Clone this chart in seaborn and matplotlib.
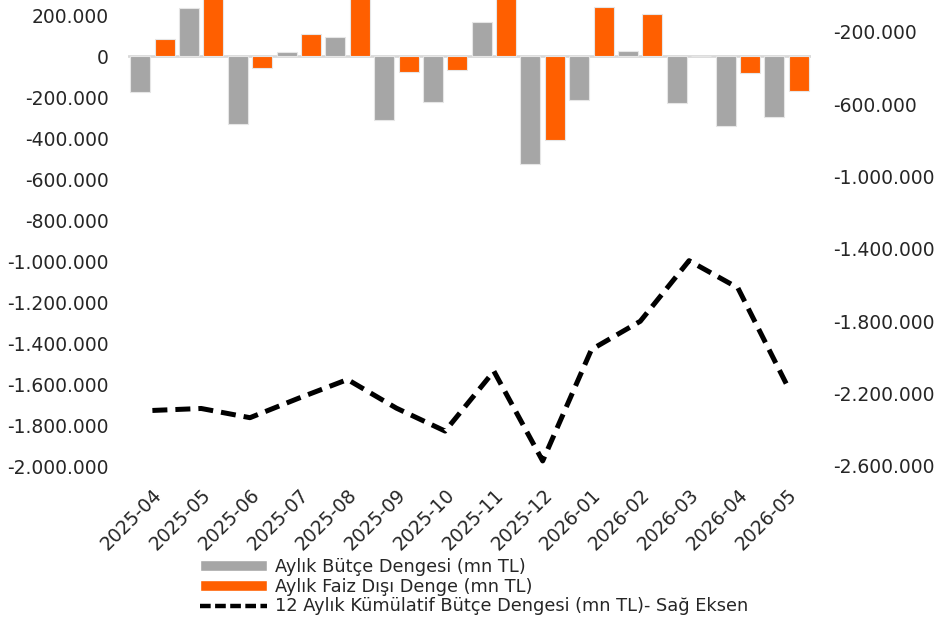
import numpy as np
import pandas as pd
import matplotlib
matplotlib.use("Agg")
import matplotlib.pyplot as plt
import matplotlib.ticker as mticker
from matplotlib.patches import Patch
from matplotlib.lines import Line2D
import seaborn as sns

# Data (thousand TL)
months = ["2025-04", "2025-05", "2025-06", "2025-07", "2025-08", "2025-09", "2025-10",
          "2025-11", "2025-12", "2026-01", "2026-02", "2026-03", "2026-04", "2026-05"]
butce = [-176, 234, -330, 21, 94, -311, -224, 169, -528, -215, 23, -231, -340, -299]
faiz_disi = [83, 310, -57, 109, 330, -75, -67, 300, -411, 240, 206, 3, -81, -169]
kumulatif = [-2293, -2282, -2333, -2225, -2122, -2280, -2407, -2076, -2572, -1956,
             -1800, -1465, -1615, -2149]

lbl_butce = "Aylık Bütçe Dengesi (mn TL)"
lbl_faiz = "Aylık Faiz Dışı Denge (mn TL)"
lbl_kum = "12 Aylık Kümülatif Bütçe Dengesi (mn TL)- Sağ Eksen"
gri = "#a6a6a6"
turuncu = "#ff5f00"
kesik = (0, (3, 1.6))  # dashed line pattern

bars = pd.DataFrame({
    "ay": months * 2,
    "deger": [v * 1000 for v in butce + faiz_disi],
    "seri": [lbl_butce] * len(months) + [lbl_faiz] * len(months),
})
line = pd.DataFrame({"x": np.arange(len(months)), "deger": [v * 1000 for v in kumulatif]})

sns.set_style("white")
plt.rcParams["font.family"] = ["DejaVu Sans"]
plt.rcParams["font.size"] = 13.5


def tr_fmt(v, pos):
    # turkish style thousands separator
    return f"{int(round(v)):,}".replace(",", ".")


fig = plt.figure(figsize=(9.36, 6.26), dpi=100)
ax = fig.add_axes([128 / 936, 1 - 466 / 626, (811 - 128) / 936, 466 / 626])

ax.axhline(0, color="#d9d9d9", lw=2, zorder=0)
sns.barplot(data=bars, x="ay", y="deger", hue="seri", palette=[gri, turuncu],
            saturation=1, width=1.0, gap=0.18, edgecolor="#e6e6e6", linewidth=0.8,
            errorbar=None, ax=ax, legend=False, zorder=2)

ax2 = ax.twinx()
sns.lineplot(data=line, x="x", y="deger", color="black", lw=3.6, ax=ax2, legend=False)
for ln in ax2.get_lines():
    ln.set_linestyle(kesik)
    ln.set_dash_capstyle("butt")

ax.set_xlim(-0.5, len(months) - 0.5)
ax.set_ylim(-2000000, 274000)
ax2.set_ylim(-2600000, -24000)
ax.set_yticks(np.arange(-2000000, 200001, 200000))
ax2.set_yticks(np.arange(-2600000, -199999, 400000))
ax.yaxis.set_major_formatter(mticker.FuncFormatter(tr_fmt))
ax2.yaxis.set_major_formatter(mticker.FuncFormatter(tr_fmt))

ax.set_xlabel("")
ax.set_ylabel("")
ax2.set_ylabel("")
for a in (ax, ax2):
    for s in a.spines.values():
        s.set_visible(False)
    a.grid(False)
ax.tick_params(axis="y", length=0, pad=14)
ax2.tick_params(axis="y", length=0, pad=16)
ax.tick_params(axis="x", length=0, pad=14)
plt.setp(ax.get_xticklabels(), rotation=45, ha="right", rotation_mode="anchor")

handles = [Patch(facecolor=gri, label=lbl_butce),
           Patch(facecolor=turuncu, label=lbl_faiz),
           Line2D([0], [0], color="black", lw=3.2, dashes=(2.4, 1.0), label=lbl_kum)]
fig.legend(handles=handles, loc="upper left", bbox_to_anchor=(191 / 936, 1 - 549 / 626),
           frameon=False, borderpad=0, handlelength=3.8, handleheight=0.56,
           handletextpad=0.45, labelspacing=0.1, fontsize=12.8)

fig.savefig("out.png", dpi=100)
